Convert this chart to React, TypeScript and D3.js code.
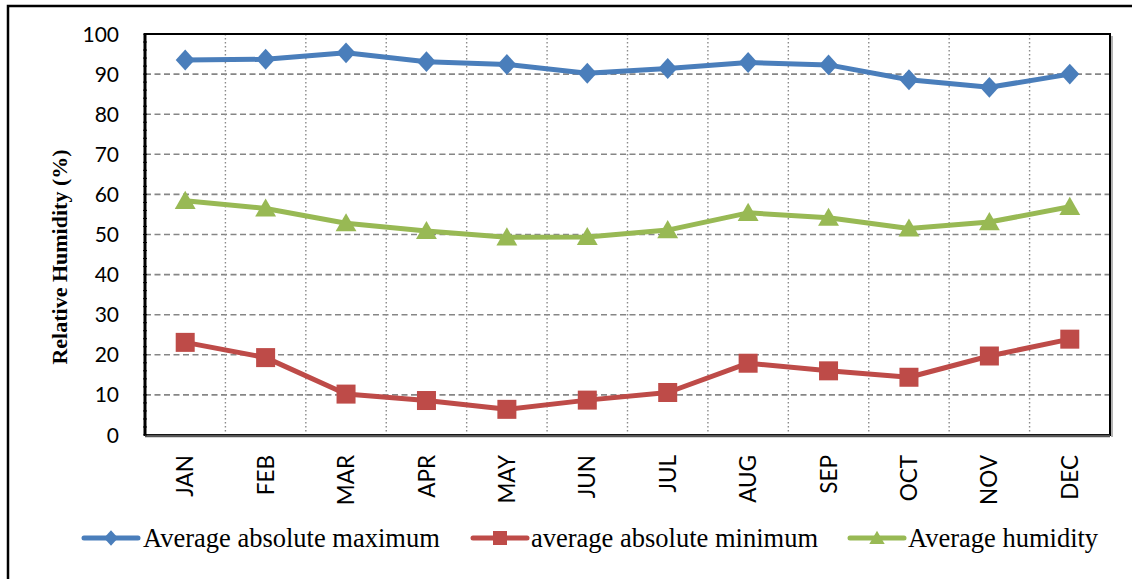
import React from "react";
import * as d3 from "d3";

const months = ["JAN", "FEB", "MAR", "APR", "MAY", "JUN", "JUL", "AUG", "SEP", "OCT", "NOV", "DEC"];
const avgAbsMax = [93.5, 93.7, 95.3, 93.1, 92.4, 90.2, 91.4, 92.9, 92.3, 88.6, 86.7, 90.0];
const avgAbsMin = [23.1, 19.3, 10.2, 8.6, 6.4, 8.7, 10.6, 17.9, 16.0, 14.4, 19.7, 23.9];
const avgHumidity = [58.4, 56.5, 52.8, 50.9, 49.3, 49.4, 51.1, 55.4, 54.2, 51.5, 53.1, 56.9];
const yTicks = [0, 10, 20, 30, 40, 50, 60, 70, 80, 90, 100];
const seriesNames = ["Average absolute maximum", "average absolute minimum", "Average humidity"];
const colors = ["#4A7EBB", "#BE4B48", "#98B954"];
const markerTypes = ["diamond", "square", "triangle"];

const W = 1132;
const H = 579;
const plot = { left: 145, right: 1110, top: 34, bottom: 435 };

function Marker({ type, x, y, size, color }: { type: string; x: number; y: number; size: number; color: string }) {
  const h = size / 2;
  if (type === "diamond") {
    return <path d={`M${x},${y - h * 1.1} L${x + h},${y} L${x},${y + h * 1.1} L${x - h},${y} Z`} fill={color} />;
  }
  if (type === "square") {
    return <rect x={x - h} y={y - h} width={size} height={size} fill={color} />;
  }
  return <path d={`M${x},${y - h * 1.05} L${x + h * 1.1},${y + h * 0.85} L${x - h * 1.1},${y + h * 0.85} Z`} fill={color} />;
}

export default function App() {
  const x = d3.scaleBand<string>().domain(months).range([plot.left, plot.right]).paddingInner(0).paddingOuter(0);
  const y = d3.scaleLinear().domain([0, 100]).range([plot.bottom, plot.top]);
  const cx = (m: string) => (x(m) ?? 0) + x.bandwidth() / 2;
  const line = d3
    .line<number>()
    .x((_, i) => cx(months[i]))
    .y((d) => y(d));
  const data = [avgAbsMax, avgAbsMin, avgHumidity];

  const legendItems = [
    { lx: 84, tx: 143 },
    { lx: 473, tx: 531 },
    { lx: 850, tx: 908 },
  ];
  const legendY = 538;

  return (
    <svg width={W} height={H} style={{ position: "absolute", left: 0, top: 0, background: "#fff" }}>
      <rect x={0} y={0} width={W} height={H} fill="#fff" />
      <rect x={8} y={6} width={W + 20} height={H + 20} fill="none" stroke="#000" strokeWidth={2.5} />

      {/* horizontal gridlines */}
      {yTicks.slice(1, -1).map((t) => (
        <line key={"h" + t} x1={plot.left} x2={plot.right} y1={y(t)} y2={y(t)} stroke="#868686" strokeWidth={1.6} strokeDasharray="6,3.5" />
      ))}
      {/* vertical gridlines */}
      {months.slice(1).map((m) => (
        <line key={"v" + m} x1={x(m)} x2={x(m)} y1={plot.top} y2={plot.bottom} stroke="#8a8a8a" strokeWidth={1.4} strokeDasharray="1.6,2.4" />
      ))}

      {/* plot border */}
      <rect x={plot.left} y={plot.top} width={plot.right - plot.left} height={plot.bottom - plot.top} fill="none" stroke="#000" strokeWidth={2} />
      <line x1={plot.right + 2} x2={plot.right + 2} y1={plot.top + 2} y2={plot.bottom + 2} stroke="#9a9a9a" strokeWidth={1.5} />
      <line x1={plot.left} x2={plot.right} y1={plot.bottom + 1} y2={plot.bottom + 1} stroke="#555" strokeWidth={2.5} />
      <line x1={plot.left} x2={plot.left} y1={plot.top} y2={plot.bottom} stroke="#000" strokeWidth={3} />
      {d3.range(0, 101, 2).map((t) => (
        <line key={"mt" + t} x1={plot.left - 2} x2={plot.left + 2} y1={y(t)} y2={y(t)} stroke="#000" strokeWidth={1} />
      ))}

      {/* y tick labels */}
      {yTicks.map((t) => (
        <text key={"yt" + t} x={119} y={y(t)} dy="0.36em" textAnchor="end" fontFamily="Lato, 'Open Sans', sans-serif" fontSize={21} fill="#000">
          {t}
        </text>
      ))}
      {/* x tick labels */}
      {months.map((m) => (
        <text
          key={"xt" + m}
          transform={`translate(${cx(m)},455) rotate(-90)`}
          textAnchor="end"
          dy="0.36em"
          fontFamily="Lato, 'Open Sans', sans-serif"
          fontSize={22.5}
          fill="#000"
        >
          {m}
        </text>
      ))}

      {/* y axis title */}
      <text
        transform={`translate(67,257) rotate(-90)`}
        textAnchor="middle"
        fontFamily="'Liberation Serif', 'Times New Roman', serif"
        fontWeight="bold"
        fontSize={22}
        fill="#000"
      >
        Relative Humidity (%)
      </text>

      {/* series */}
      {data.map((vals, si) => (
        <g key={"s" + si}>
          <path d={line(vals) ?? ""} fill="none" stroke={colors[si]} strokeWidth={5} strokeLinejoin="round" strokeLinecap="round" />
          {vals.map((v, i) => (
            <Marker key={i} type={markerTypes[si]} x={cx(months[i])} y={y(v)} size={19} color={colors[si]} />
          ))}
        </g>
      ))}

      {/* legend */}
      {legendItems.map((it, i) => (
        <g key={"lg" + i}>
          <line x1={it.lx} x2={it.lx + 54} y1={legendY} y2={legendY} stroke={colors[i]} strokeWidth={5} strokeLinecap="round" />
          <Marker type={markerTypes[i]} x={it.lx + 27} y={legendY} size={14} color={colors[i]} />
          <text x={it.tx} y={legendY + 9} fontFamily="'Liberation Serif', 'Times New Roman', serif" fontSize={26.5} fill="#000">
            {seriesNames[i]}
          </text>
        </g>
      ))}
    </svg>
  );
}
